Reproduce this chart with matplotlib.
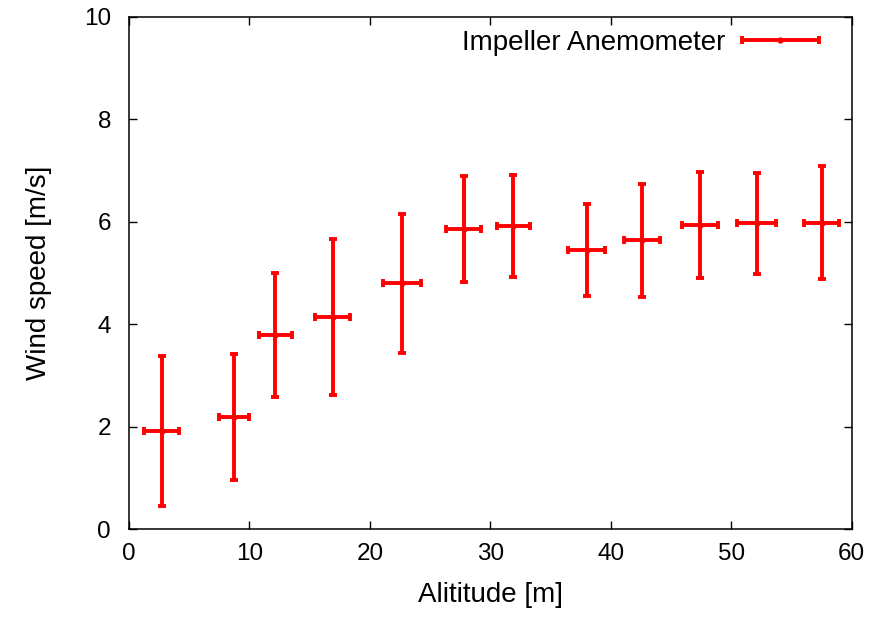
import matplotlib.pyplot as plt
from matplotlib.legend_handler import HandlerErrorbar

plt.rcParams["font.family"] = ["Liberation Sans", "DejaVu Sans"]

# altitude [m] with horizontal uncertainty, wind speed [m/s] with vertical uncertainty
altitude = [2.7, 8.7, 12.15, 16.9, 22.65, 27.8, 31.9, 38.0, 42.6, 47.4, 52.1, 57.5]
altitude_err = [1.42, 1.23, 1.38, 1.45, 1.57, 1.45, 1.38, 1.53, 1.5, 1.5, 1.6, 1.45]
speed = [1.91, 2.19, 3.78, 4.14, 4.80, 5.86, 5.92, 5.45, 5.64, 5.94, 5.97, 5.98]
speed_err = [1.46, 1.23, 1.21, 1.52, 1.36, 1.03, 1.0, 0.9, 1.1, 1.04, 0.99, 1.1]

fig = plt.figure(figsize=(8.9, 6.17), dpi=100)
ax = fig.add_axes([0.145, 0.1426, 0.812, 0.830])

style = dict(fmt="o", color="#ff0000", ecolor="#ff0000", markersize=3.5,
             elinewidth=2.8, capsize=2.6, capthick=2.8)

ax.errorbar(altitude, speed, xerr=altitude_err, yerr=speed_err, **style)

# legend proxy: only the horizontal bar, like gnuplot's key sample
proxy = ax.errorbar([float("nan")], [float("nan")], xerr=[1.0],
                    label="Impeller Anemometer", **style)

ax.set_xlim(0, 60)
ax.set_ylim(0, 10)
ax.set_xticks(range(0, 61, 10))
ax.set_yticks(range(0, 11, 2))
ax.tick_params(direction="in", length=6, width=1, top=True, right=True,
               labelsize=17.5)
ax.tick_params(axis="x", pad=10)
ax.tick_params(axis="y", pad=13)
for s in ax.spines.values():
    s.set_linewidth(1.1)

ax.set_xlabel("Alititude [m]", fontsize=20, labelpad=12)
ax.set_ylabel("Wind speed [m/s]", fontsize=20, labelpad=23)

ax.legend(handles=[proxy], loc="upper right", bbox_to_anchor=(0.985, 1.018),
          frameon=False, markerfirst=False,
          fontsize=20, handlelength=2.77, borderaxespad=0.4, handletextpad=0.6,
          handler_map={type(proxy): HandlerErrorbar(xerr_size=1.38)})

fig.savefig("out.png", dpi=100)
